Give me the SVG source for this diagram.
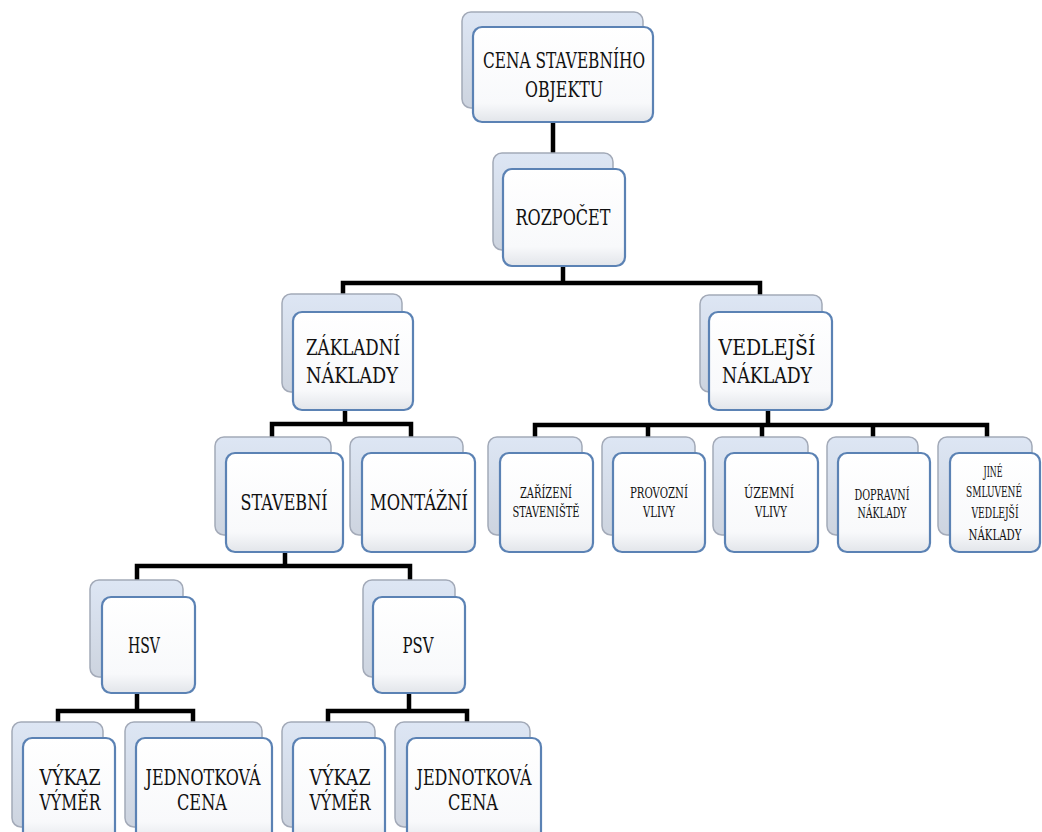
<svg xmlns="http://www.w3.org/2000/svg" width="1042" height="832" viewBox="0 0 1042 832">
<style>
.back{fill:url(#gb);stroke:#a3aab8;stroke-width:1.5}
.front{fill:url(#gf);stroke:#5b82b4;stroke-width:2.2}
.t{font-family:"DejaVu Serif","Liberation Serif",serif;fill:#111;text-anchor:middle}
.L{font-size:22px}
.S{font-size:14px}
.c{fill:none;stroke:#000;stroke-width:4.5}
</style>
<defs>
<linearGradient id="gb" x1="0" y1="0" x2="0" y2="1">
<stop offset="0" stop-color="#dde6f4"/>
<stop offset="1" stop-color="#cdd4df"/>
</linearGradient>
<linearGradient id="gf" x1="0" y1="0" x2="0" y2="1">
<stop offset="0" stop-color="#ffffff"/>
<stop offset="0.8" stop-color="#f8f9fb"/>
<stop offset="1" stop-color="#e2e5ea"/>
</linearGradient>
</defs>
<rect width="1042" height="832" fill="#ffffff"/>
<g id="connectors">
<path class="c" d="M553 122V153"/>
<path class="c" d="M563 266V283M343 294V283H760V295"/>
<path class="c" d="M345 410V424M272 437V424H411V437"/>
<path class="c" d="M768 410V425M535 437V425H987V437M648 425V437M762 425V437M873 425V437"/>
<path class="c" d="M285 552V566M137 580V566H410V580"/>
<path class="c" d="M137 693V711M58 722V711H193V722"/>
<path class="c" d="M409 693V711M328 722V711H467V722"/>
</g>
<g id="n_cena">
<rect class="back" x="462" y="12" width="181" height="96" rx="9"/>
<rect class="front" x="473" y="27" width="180" height="95" rx="9"/>
<text class="t L" x="564" y="68" textLength="162" lengthAdjust="spacingAndGlyphs">CENA STAVEBNÍHO</text>
<text class="t L" x="564" y="97" textLength="78" lengthAdjust="spacingAndGlyphs">OBJEKTU</text>
</g>
<g id="n_rozpocet">
<rect class="back" x="493" y="153" width="120" height="97" rx="9"/>
<rect class="front" x="503" y="169" width="122" height="97" rx="9"/>
<text class="t L" x="563" y="225" textLength="95" lengthAdjust="spacingAndGlyphs">ROZPOČET</text>
</g>
<g id="n_zakladni">
<rect class="back" x="282" y="294" width="120" height="98" rx="9"/>
<rect class="front" x="293" y="312" width="120" height="98" rx="9"/>
<text class="t L" x="353" y="355" textLength="94" lengthAdjust="spacingAndGlyphs">ZÁKLADNÍ</text>
<text class="t L" x="352" y="383" textLength="92" lengthAdjust="spacingAndGlyphs">NÁKLADY</text>
</g>
<g id="n_vedlejsi">
<rect class="back" x="700" y="295" width="122" height="97" rx="9"/>
<rect class="front" x="709" y="312" width="123" height="98" rx="9"/>
<text class="t L" x="767" y="355" textLength="97" lengthAdjust="spacingAndGlyphs">VEDLEJŠÍ</text>
<text class="t L" x="767" y="383" textLength="90" lengthAdjust="spacingAndGlyphs">NÁKLADY</text>
</g>
<g id="n_stavebni">
<rect class="back" x="215" y="437" width="116" height="98" rx="9"/>
<rect class="front" x="226" y="453" width="117" height="99" rx="9"/>
<text class="t L" x="284" y="510" textLength="87" lengthAdjust="spacingAndGlyphs">STAVEBNÍ</text>
</g>
<g id="n_montazni">
<rect class="back" x="350" y="437" width="113" height="98" rx="9"/>
<rect class="front" x="362" y="453" width="113" height="99" rx="9"/>
<text class="t L" x="419" y="510" textLength="98" lengthAdjust="spacingAndGlyphs">MONTÁŽNÍ</text>
</g>
<g id="n_zarizeni">
<rect class="back" x="488" y="437" width="94" height="98" rx="9"/>
<rect class="front" x="500" y="453" width="93" height="99" rx="9"/>
<text class="t S" x="546" y="498" textLength="52" lengthAdjust="spacingAndGlyphs">ZAŘÍZENÍ</text>
<text class="t S" x="546" y="517" textLength="67" lengthAdjust="spacingAndGlyphs">STAVENIŠTĚ</text>
</g>
<g id="n_provozni">
<rect class="back" x="602" y="437" width="93" height="98" rx="9"/>
<rect class="front" x="613" y="453" width="92" height="99" rx="9"/>
<text class="t S" x="659" y="498" textLength="58" lengthAdjust="spacingAndGlyphs">PROVOZNÍ</text>
<text class="t S" x="659" y="517" textLength="32" lengthAdjust="spacingAndGlyphs">VLIVY</text>
</g>
<g id="n_uzemni">
<rect class="back" x="713" y="437" width="95" height="98" rx="9"/>
<rect class="front" x="725" y="453" width="93" height="99" rx="9"/>
<text class="t S" x="769" y="498" textLength="50" lengthAdjust="spacingAndGlyphs">ÚZEMNÍ</text>
<text class="t S" x="771" y="517" textLength="32" lengthAdjust="spacingAndGlyphs">VLIVY</text>
</g>
<g id="n_dopravni">
<rect class="back" x="827" y="437" width="91" height="98" rx="9"/>
<rect class="front" x="838" y="453" width="92" height="99" rx="9"/>
<text class="t S" x="882" y="500" textLength="55" lengthAdjust="spacingAndGlyphs">DOPRAVNÍ</text>
<text class="t S" x="882" y="518" textLength="49" lengthAdjust="spacingAndGlyphs">NÁKLADY</text>
</g>
<g id="n_jine">
<rect class="back" x="938" y="437" width="94" height="98" rx="9"/>
<rect class="front" x="950" y="453" width="90" height="99" rx="9"/>
<text class="t S" x="993" y="477" textLength="19" lengthAdjust="spacingAndGlyphs">JINÉ</text>
<text class="t S" x="994" y="497" font-size="13" textLength="56" lengthAdjust="spacingAndGlyphs">SMLUVENÉ</text>
<text class="t S" x="995" y="518" textLength="47" lengthAdjust="spacingAndGlyphs">VEDLEJŠÍ</text>
<text class="t S" x="995" y="540" textLength="53" lengthAdjust="spacingAndGlyphs">NÁKLADY</text>
</g>
<g id="n_hsv">
<rect class="back" x="90" y="580" width="93" height="97" rx="9"/>
<rect class="front" x="102" y="597" width="93" height="96" rx="9"/>
<text class="t L" x="144" y="653" textLength="32" lengthAdjust="spacingAndGlyphs">HSV</text>
</g>
<g id="n_psv">
<rect class="back" x="363" y="580" width="92" height="97" rx="9"/>
<rect class="front" x="373" y="597" width="92" height="96" rx="9"/>
<text class="t L" x="418" y="653" textLength="31" lengthAdjust="spacingAndGlyphs">PSV</text>
</g>
<g id="n_vykaz1">
<rect class="back" x="12" y="722" width="91" height="105" rx="9"/>
<rect class="front" x="23" y="738" width="92" height="105" rx="9"/>
<text class="t L" x="70" y="785" textLength="61" lengthAdjust="spacingAndGlyphs">VÝKAZ</text>
<text class="t L" x="70" y="810" textLength="61" lengthAdjust="spacingAndGlyphs">VÝMĚR</text>
</g>
<g id="n_jedn1">
<rect class="back" x="125" y="722" width="137" height="105" rx="9"/>
<rect class="front" x="136" y="738" width="136" height="105" rx="9"/>
<text class="t L" x="203" y="785" textLength="115" lengthAdjust="spacingAndGlyphs">JEDNOTKOVÁ</text>
<text class="t L" x="202" y="810" textLength="50" lengthAdjust="spacingAndGlyphs">CENA</text>
</g>
<g id="n_vykaz2">
<rect class="back" x="282" y="722" width="93" height="105" rx="9"/>
<rect class="front" x="293" y="738" width="92" height="105" rx="9"/>
<text class="t L" x="340" y="785" textLength="61" lengthAdjust="spacingAndGlyphs">VÝKAZ</text>
<text class="t L" x="340" y="810" textLength="61" lengthAdjust="spacingAndGlyphs">VÝMĚR</text>
</g>
<g id="n_jedn2">
<rect class="back" x="395" y="722" width="135" height="105" rx="9"/>
<rect class="front" x="407" y="738" width="134" height="105" rx="9"/>
<text class="t L" x="474" y="785" textLength="115" lengthAdjust="spacingAndGlyphs">JEDNOTKOVÁ</text>
<text class="t L" x="473" y="810" textLength="50" lengthAdjust="spacingAndGlyphs">CENA</text>
</g>
</svg>
